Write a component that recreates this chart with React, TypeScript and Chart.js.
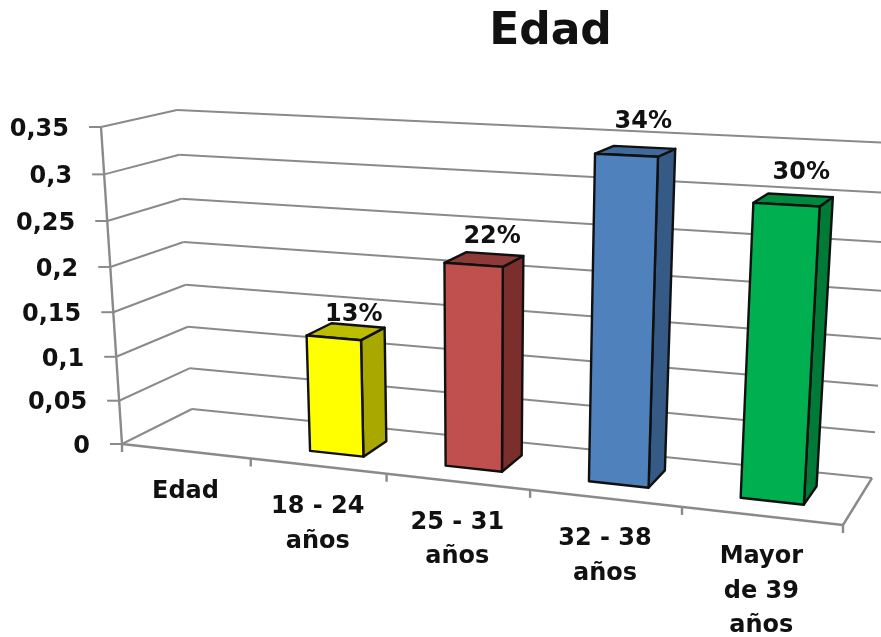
import React, { useEffect, useRef } from "react";
import { Chart, registerables, LinearScale, CategoryScale } from "chart.js";

const categories: (string | string[])[] = ["Edad", ["18 - 24", "años"], ["25 - 31", "años"], ["32 - 38", "años"], ["Mayor", "de 39", "años"]];
const values: (number | null)[] = [null, 0.13, 0.22, 0.34, 0.3];
const frontColors = ["#000000", "#FFFF00", "#C0504D", "#4F81BD", "#00B050"];
const sideColors = ["#000000", "#A8A800", "#7B2E2C", "#355A86", "#007A37"];
const topColors = ["#000000", "#BDBD00", "#8E3A38", "#3F6A9E", "#008A3E"];
const titleText = "Edad";
const FONT = "'DejaVu Sans'";

type P = [number, number];
const FLB: P = [122, 444], FLT: P = [101, 127], BLB: P = [192, 409], BLT: P = [177, 110];
const FRB: P = [843, 525], FRT: P = [864, 163], BRB: P = [872, 478], BRT: P = [894, 143];
const KX = 1.15, KY = 1.054;
const BAR_D1 = 0.32, BAR_D2 = 0.72;

const lerp = (a: P, b: P, t: number): P => [a[0] + (b[0] - a[0]) * t, a[1] + (b[1] - a[1]) * t];
const warp = (u: number, k: number) => u / (u + k * (1 - u));
function project(u: number, f: number, d: number): P {
  const t = warp(u, KX);
  const bot = lerp(lerp(FLB, BLB, d), lerp(FRB, BRB, d), t);
  const top = lerp(lerp(FLT, BLT, d), lerp(FRT, BRT, d), t);
  return lerp(bot, top, f);
}

class PerspectiveY extends LinearScale {
  static id = "perspectiveY";
  static defaults = LinearScale.defaults;
  getPixelForValue(value: number) {
    const s: any = this;
    const f = (value - s.min) / (s.max - s.min);
    return s.bottom - warp(f, KY) * (s.bottom - s.top);
  }
  _computeLabelArea() { return undefined; }
  _computeLabelItems(area: any) {
    const s: any = this;
    const items = (LinearScale.prototype as any)._computeLabelItems.call(this, area);
    items.forEach((it: any) => {
      const y = it.options.translation[1];
      const f = (s.bottom - y) / (s.bottom - s.top);
      it.options.translation = [project(0, f, 0)[0] - 32, y + 2.5];
    });
    return items;
  }
}

class PerspectiveX extends CategoryScale {
  static id = "perspectiveX";
  static defaults = CategoryScale.defaults;
  _computeLabelArea() { return undefined; }
  _computeLabelItems(area: any) {
    const s: any = this;
    const items = (CategoryScale.prototype as any)._computeLabelItems.call(this, area);
    items.forEach((it: any, i: number) => {
      const u = (s.getPixelForTick(i) - s.left) / s.width;
      const p = project(u, 0, 0);
      it.textOffset = 0;
      it.options.textBaseline = "middle";
      it.options.textAlign = "center";
      it.options.translation = [p[0], p[1] + 41];
    });
    return items;
  }
}

Chart.register(...registerables, PerspectiveY, PerspectiveX);

function path(ctx: CanvasRenderingContext2D, pts: P[], fill?: string) {
  ctx.beginPath();
  pts.forEach((p, i) => (i ? ctx.lineTo(p[0], p[1]) : ctx.moveTo(p[0], p[1])));
  ctx.closePath();
  if (fill) { ctx.fillStyle = fill; ctx.fill(); }
}
function seg(ctx: CanvasRenderingContext2D, a: P, b: P) {
  ctx.beginPath();
  ctx.moveTo(a[0], a[1]);
  ctx.lineTo(b[0], b[1]);
  ctx.stroke();
}

const perspective = {
  id: "perspective",
  afterLayout(chart: any) {
    const t = chart.titleBlock;
    if (t) { t.left += 110; t.right += 110; }
  },
  beforeDatasetsDraw(chart: any) {
    const { ctx, scales } = chart;
    const y = scales.y, x = scales.x;
    const frac = (v: number) => (y.bottom - y.getPixelForValue(v)) / (y.bottom - y.top);
    ctx.save();
    ctx.strokeStyle = "#8a8a8a";
    ctx.lineWidth = 2;
    y.ticks.forEach((tick: any) => {
      const f = frac(tick.value);
      const a = project(0, f, 0), b = project(0, f, 1), c = project(1, f, 1);
      seg(ctx, a, b);
      seg(ctx, b, c);
      seg(ctx, [a[0] - 12, a[1]], a);
    });
    ctx.lineWidth = 2.4;
    seg(ctx, project(0, 0, 0), project(0, 1, 0));
    seg(ctx, project(0, 0, 0), project(1, 0, 0));
    seg(ctx, project(1, 0, 0), project(1, 0, 1));
    const n = x.ticks.length;
    for (let i = 0; i <= n; i++) {
      const p = project(i / n, 0, 0);
      seg(ctx, p, [p[0], p[1] + 8]);
    }
    ctx.restore();
  },
  beforeDatasetDraw(chart: any, args: any) {
    const { ctx, chartArea: a } = chart;
    const meta = args.meta;
    ctx.save();
    ctx.lineJoin = "round";
    ctx.strokeStyle = "#101010";
    ctx.lineWidth = 2.4;
    meta.data.forEach((el: any, i: number) => {
      const v = values[i];
      if (v === null) return;
      const u1 = (el.x - el.width / 2 - a.left) / a.width;
      const u2 = (el.x + el.width / 2 - a.left) / a.width;
      const ft = (a.bottom - el.y) / a.height;
      const fb = (a.bottom - el.base) / a.height;
      const D1 = BAR_D1, D2 = BAR_D2;
      const front: P[] = [project(u1, ft, D1), project(u2, ft, D1), project(u2, fb, D1), project(u1, fb, D1)];
      const side: P[] = [project(u2, ft, D1), project(u2, ft, D2), project(u2, fb, D2), project(u2, fb, D1)];
      const top: P[] = [project(u1, ft, D1), project(u1, ft, D2), project(u2, ft, D2), project(u2, ft, D1)];
      path(ctx, side, sideColors[i]); ctx.stroke();
      path(ctx, top, topColors[i]); ctx.stroke();
      path(ctx, front, frontColors[i]); ctx.stroke();
    });
    ctx.restore();
    return false;
  },
  afterDatasetsDraw(chart: any) {
    const { ctx, chartArea: a } = chart;
    const meta = chart.getDatasetMeta(0);
    ctx.save();
    ctx.font = `bold 24px ${FONT}`;
    ctx.fillStyle = "#111";
    ctx.textAlign = "center";
    ctx.textBaseline = "middle";
    meta.data.forEach((el: any, i: number) => {
      const v = values[i];
      if (v === null) return;
      const p = project((el.x - a.left) / a.width, (a.bottom - el.y) / a.height, (BAR_D1 + BAR_D2) / 2);
      ctx.fillText(Math.round(v * 100) + "%", p[0] + 8, p[1] - 17 - (v - 0.13) * 60);
    });
    ctx.restore();
  },
};

export default function App() {
  const ref = useRef<HTMLCanvasElement>(null);
  useEffect(() => {
    const chart = new Chart(ref.current!, {
      type: "bar",
      data: {
        labels: categories as any,
        datasets: [{ label: titleText, data: values, backgroundColor: frontColors, barPercentage: 0.4, categoryPercentage: 1 }],
      },
      plugins: [perspective],
      options: {
        responsive: false,
        animation: false,
        layout: { padding: { top: 0, left: 0, right: 0, bottom: 193 } },
        plugins: {
          legend: { display: false },
          tooltip: { enabled: false },
          title: {
            display: true,
            text: titleText,
            color: "#111",
            font: { family: FONT, size: 44, weight: "bold", lineHeight: 1.2 },
            padding: { top: 6, bottom: 68.2 },
          },
        },
        scales: {
          x: {
            type: "perspectiveX",
            grid: { display: false },
            border: { display: false },
            ticks: { autoSkip: false, maxRotation: 0, minRotation: 0, color: "#111", font: { family: FONT, size: 24, weight: "bold", lineHeight: 34.5 / 24 } },
            afterFit: (s: any) => { s.height = 0; },
          },
          y: {
            type: "perspectiveY",
            min: 0,
            max: 0.35,
            grid: { display: false },
            border: { display: false },
            afterFit: (s: any) => { s.width = 100; },
            ticks: {
              stepSize: 0.05,
              color: "#111",
              font: { family: FONT, size: 24, weight: "bold" },
              callback: (v: any) => String(+Number(v).toFixed(2)).replace(".", ","),
            },
          },
        },
      } as any,
    } as any);
    return () => chart.destroy();
  }, []);
  return (
    <div style={{ position: "absolute", left: 0, top: 0, width: 881, height: 637, background: "#fff" }}>
      <canvas ref={ref} width={881} height={637} style={{ display: "block" }} />
    </div>
  );
}
